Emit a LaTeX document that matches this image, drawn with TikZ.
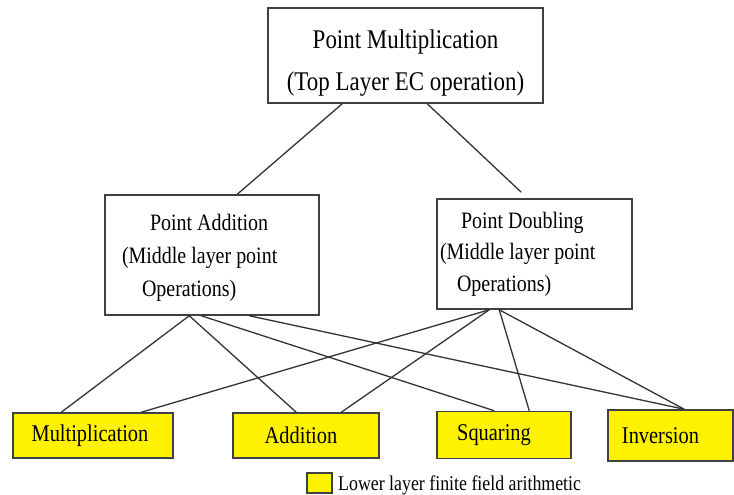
\documentclass[tikz,border=0pt]{standalone}
\usepackage{fontspec}
\setmainfont{Liberation Serif}[FakeStretch=0.85]
\tikzset{
	caixa/.style={draw=black!75, line width=1.5pt, fill=white},
	caixabaixa/.style={caixa, fill=yellow, minimum height=45pt, inner sep=0pt, font=\fontsize{24}{28}\selectfont},
	ligacao/.style={draw=black!80, line width=1.3pt}
}
\begin{document}
\begin{tikzpicture}[x=1pt,y=-1pt]
		\useasboundingbox (0,0) rectangle (734,495);
		
		% Camada superior
		\node[caixa, minimum width=275pt, minimum height=95pt, align=flush center, font=\fontsize{27}{42}\selectfont] (top) at (405.5,55.5) {\rule{0pt}{33pt}Point Multiplication\\(Top Layer EC operation)};
		
		% Camada do meio
		\node[caixa, text width=180pt, inner xsep=17pt, minimum height=120pt, align=flush left, font=\fontsize{23.5}{33}\selectfont] (pa) at (212,255) {\rule{0pt}{22pt}\hspace*{28pt}Point Addition\\(Middle layer point\\\hspace*{20pt}Operations)};
		\node[caixa, text width=189pt, inner xsep=3pt, minimum height=110pt, align=flush left, font=\fontsize{23.5}{31.5}\selectfont] (pd) at (534.5,254) {\hspace*{21pt}Point Doubling\\(Middle layer point\\\hspace*{17pt}Operations)};
		
		% Camada inferior
		\node[caixabaixa, minimum width=160pt] (mul) at (93,435.5)  {Multiplication\hspace*{6pt}};
		\node[caixabaixa, minimum width=146pt] (add) at (306,435.5) {Addition\hspace*{10pt}};
		\node[caixabaixa, minimum width=134pt, minimum height=47pt] (sq)  at (504,435) {Squaring\hspace*{20pt}};
		\node[caixabaixa, minimum width=125pt, minimum height=51pt] (inv) at (670.5,435.5) {Inversion\hspace*{20pt}};
		
		% Legenda
		\node[caixa, fill=yellow, minimum width=25pt, minimum height=20pt, inner sep=0pt] (leg) at (319.5,483) {};
		\node[anchor=west, inner sep=0pt, font=\fontsize{21}{24}\selectfont] (legtxt) at (338,485) {Lower layer finite field arithmetic};
		
		% Ligacoes
		\draw[ligacao] ([xshift=75pt]top.south west)  -- ([xshift=133pt]pa.north west);
		\draw[ligacao] ([xshift=160pt]top.south west) -- ([xshift=85pt,yshift=6pt]pd.north west);
		
		\draw[ligacao] ([xshift=85pt]pa.south west)  -- ([xshift=49pt]mul.north west);
		\draw[ligacao] ([xshift=85pt]pa.south west)  -- ([xshift=64pt]add.north west);
		\draw[ligacao] ([xshift=97pt]pa.south west)  -- ([xshift=58pt]sq.north west);
		\draw[ligacao] ([xshift=145pt]pa.south west) -- ([xshift=77pt]inv.north west);
		
		\draw[ligacao] ([xshift=53pt]pd.south west) -- ([xshift=129pt]mul.north west);
		\draw[ligacao] ([xshift=53pt]pd.south west) -- ([xshift=109pt]add.north west);
		\draw[ligacao] ([xshift=63pt]pd.south west) -- ([xshift=93pt]sq.north west);
		\draw[ligacao] ([xshift=63pt]pd.south west) -- ([xshift=77pt]inv.north west);
	\end{tikzpicture}
\end{document}
